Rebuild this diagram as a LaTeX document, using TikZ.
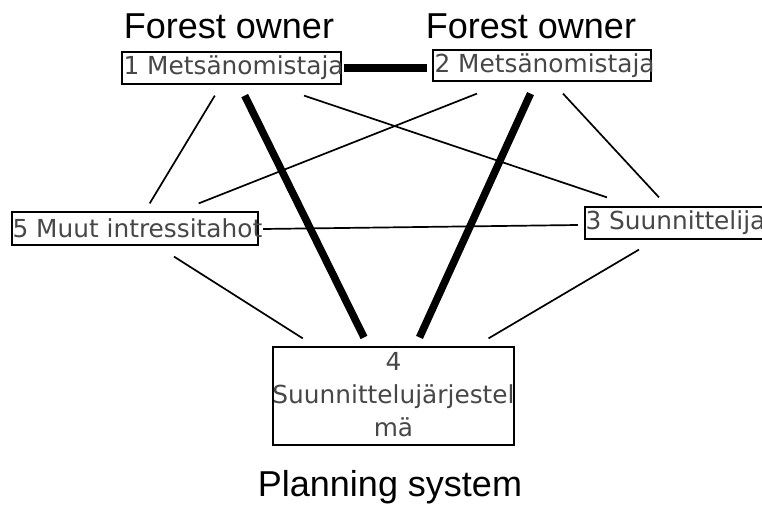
\documentclass[tikz,border=0pt]{standalone}
\usepackage{fontspec}
\setmainfont{Liberation Sans}
\newfontfamily\boxfont{DejaVu Sans}
\begin{document}
\begin{tikzpicture}[x=1pt,y=-1pt,
  box/.style={draw=black, line width=1.2pt, inner sep=0pt, fill=none},
  boxtext/.style={font=\boxfont\fontsize{24.8}{33}\selectfont, text=black!72, inner sep=0pt},
  title/.style={font=\fontsize{36}{40}\selectfont, inner sep=0pt, anchor=base},
  thin/.style={line width=1.7pt},
  thick/.style={line width=7.5pt}]
\useasboundingbox[fill=white] (0,0) rectangle (762,505);

% role titles
\node[title] (t1) at (229,39) {Forest owner};
\node[title] (t2) at (531,39) {Forest owner};
\node[title] (t4) at (390,496) {Planning system};

% boxes
\node[box, minimum width=219pt, minimum height=32pt] (m1) at (231.5,68) {};
\node[box, minimum width=218pt, minimum height=31pt] (m2) at (542,65.5) {};
\node[box, minimum width=200pt, minimum height=32pt] (m3) at (685,223) {};
\node[box, minimum width=246pt, minimum height=33pt] (m5) at (135,228.5) {};
\node[box, minimum width=241pt, minimum height=98pt] (m4) at (393.5,396) {};

% box labels
\node[boxtext, anchor=west] (m1t) at ([xshift=2pt]m1.west) {1 Metsänomistaja};
\node[boxtext, anchor=west] (m2t) at ([xshift=2pt]m2.west) {2 Metsänomistaja};
\node[boxtext, anchor=west] (m3t) at ([xshift=1pt]m3.west) {3 Suunnittelija};
\node[boxtext, anchor=west] (m5t) at ([xshift=1pt]m5.west) {5 Muut intressitahot};
\node[boxtext, align=center] (m4t) at ([yshift=1pt]m4.center) {4\\Suunnittelujärjestel\\mä};

% strong ties
\draw[thick] ([shift={(2,0)}]m1.east) -- ([shift={(-5,2.5)}]m2.west);
\draw[thick] ([shift={(13.2,11)}]m1.south) -- ([shift={(-29.5,-9)}]m4.north);
\draw[thick] ([shift={(-11.5,12)}]m2.south) -- ([shift={(26,-9)}]m4.north);

% weak ties
\draw[thin] ([shift={(-16.7,11)}]m1.south) -- ([shift={(14.7,-8)}]m5.north);
\draw[thin] ([shift={(72.5,11)}]m1.south) -- ([shift={(-78,-9)}]m3.north);
\draw[thin] ([shift={(-65,12)}]m2.south) -- ([shift={(63.7,-8)}]m5.north);
\draw[thin] ([shift={(21,12)}]m2.south) -- ([shift={(-26,-9)}]m3.north);
\draw[thin] ([shift={(4.6,0.5)}]m5.east) -- ([shift={(-6.6,2)}]m3.west);
\draw[thin] ([shift={(39,11)}]m5.south) -- ([shift={(-90.7,-8)}]m4.north);
\draw[thin] ([shift={(-46,10)}]m3.south) -- ([shift={(95,-8)}]m4.north);
\end{tikzpicture}
\end{document}
